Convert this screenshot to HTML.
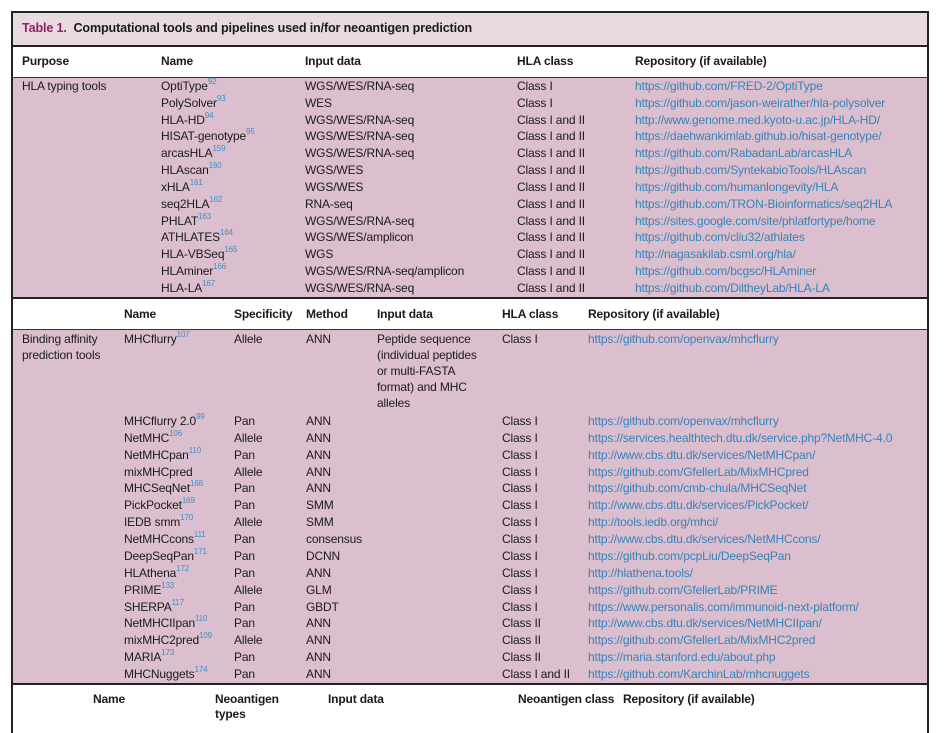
<!DOCTYPE html>
<html><head><meta charset="utf-8">
<style>
body{margin:0;width:944px;height:716px;background:#fff;overflow:hidden;position:relative;font-family:"Liberation Sans",sans-serif;font-size:12px;color:#1a1a1a}
.c{position:absolute;white-space:nowrap;line-height:16px;letter-spacing:-0.15px}
.b{font-weight:bold}
.l{color:#3583b8}
sup{color:#3a90c8;font-size:8px;vertical-align:6px;line-height:0}
.bg{position:absolute}
</style></head><body>
<div class="bg" style="left:11px;top:11px;width:914px;height:720px;border:2px solid #222;border-bottom:none;"></div>
<div class="bg" style="left:13px;top:13px;width:914px;height:32px;background:#e9dae2;border-bottom:2px solid #222"></div>
<div class="c b" style="left:22px;top:20px;font-size:12.6px"><span style="color:#8b2464">Table 1.</span>&nbsp; Computational tools and pipelines used in/for neoantigen prediction</div>
<div class="bg" style="left:13px;top:77px;width:914px;height:219px;background:#dbbfcf;border-top:1px solid #333;border-bottom:2px solid #222"></div>
<div class="bg" style="left:13px;top:329px;width:914px;height:353px;background:#dbbfcf;border-top:1px solid #333;border-bottom:2px solid #222"></div>
<div id="root"></div>
<script>
const root=document.getElementById('root');
function cell(x,y,html,cls,name,link){
  const d=document.createElement('div');
  d.className='c '+(cls||'');
  d.style.left=x+'px';d.style.top=(y-8)+'px';
  d.innerHTML=html;
  
  
  root.appendChild(d);
}
const h1=['Purpose','Name','Input data','HLA class','Repository (if available)'];
const h1x=[22,161,305,517,635];
h1.forEach((t,i)=>cell(h1x[i],61,t,'b','column-header'));
const hlaNames=['OptiType<sup>92</sup>','PolySolver<sup>93</sup>','HLA-HD<sup>94</sup>','HISAT-genotype<sup>95</sup>','arcasHLA<sup>159</sup>','HLAscan<sup>160</sup>','xHLA<sup>161</sup>','seq2HLA<sup>162</sup>','PHLAT<sup>163</sup>','ATHLATES<sup>164</sup>','HLA-VBSeq<sup>165</sup>','HLAminer<sup>166</sup>','HLA-LA<sup>167</sup>'];
const hlaInput=['WGS/WES/RNA-seq','WES','WGS/WES/RNA-seq','WGS/WES/RNA-seq','WGS/WES/RNA-seq','WGS/WES','WGS/WES','RNA-seq','WGS/WES/RNA-seq','WGS/WES/amplicon','WGS','WGS/WES/RNA-seq/amplicon','WGS/WES/RNA-seq'];
const hlaClass=['Class I','Class I','Class I and II','Class I and II','Class I and II','Class I and II','Class I and II','Class I and II','Class I and II','Class I and II','Class I and II','Class I and II','Class I and II'];
const hlaRepo=['https://github.com/FRED-2/OptiType','https://github.com/jason-weirather/hla-polysolver','http://www.genome.med.kyoto-u.ac.jp/HLA-HD/','https://daehwankimlab.github.io/hisat-genotype/','https://github.com/RabadanLab/arcasHLA','https://github.com/SyntekabioTools/HLAscan','https://github.com/humanlongevity/HLA','https://github.com/TRON-Bioinformatics/seq2HLA','https://sites.google.com/site/phlatfortype/home','https://github.com/cliu32/athlates','http://nagasakilab.csml.org/hla/','https://github.com/bcgsc/HLAminer','https://github.com/DiltheyLab/HLA-LA'];
cell(22,86,'HLA typing tools','','purpose-hla-typing');
hlaNames.forEach((n,i)=>{
  const y=86+i*16.83;
  cell(161,y,n,'','tool-name');
  cell(305,y,hlaInput[i],'','input-data');
  cell(517,y,hlaClass[i],'','hla-class');
  cell(635,y,hlaRepo[i],'l','repository-link',true);
});
const h2=['Name','Specificity','Method','Input data','HLA class','Repository (if available)'];
const h2x=[124,234,306,377,502,588];
h2.forEach((t,i)=>cell(h2x[i],314,t,'b','column-header'));
cell(22,339,'Binding affinity','','purpose-binding-affinity');
cell(22,355,'prediction tools','','purpose-binding-affinity');
cell(124,339,'MHCflurry<sup>107</sup>','','tool-name');
cell(234,339,'Allele','','specificity');
cell(306,339,'ANN','','method');
['Peptide sequence','(individual peptides','or multi-FASTA','format) and MHC','alleles'].forEach((t,i)=>cell(377,339+i*16,t,'','input-data'));
cell(502,339,'Class I','','hla-class');
cell(588,339,'https://github.com/openvax/mhcflurry','l','repository-link',true);
const bNames=['MHCflurry 2.0<sup>99</sup>','NetMHC<sup>106</sup>','NetMHCpan<sup>110</sup>','mixMHCpred','MHCSeqNet<sup>168</sup>','PickPocket<sup>169</sup>','IEDB smm<sup>170</sup>','NetMHCcons<sup>111</sup>','DeepSeqPan<sup>171</sup>','HLAthena<sup>172</sup>','PRIME<sup>133</sup>','SHERPA<sup>117</sup>','NetMHCIIpan<sup>110</sup>','mixMHC2pred<sup>109</sup>','MARIA<sup>173</sup>','MHCNuggets<sup>174</sup>'];
const bSpec=['Pan','Allele','Pan','Allele','Pan','Pan','Allele','Pan','Pan','Pan','Allele','Pan','Pan','Allele','Pan','Pan'];
const bMethod=['ANN','ANN','ANN','ANN','ANN','SMM','SMM','consensus','DCNN','ANN','GLM','GBDT','ANN','ANN','ANN','ANN'];
const bClass=['Class I','Class I','Class I','Class I','Class I','Class I','Class I','Class I','Class I','Class I','Class I','Class I','Class II','Class II','Class II','Class I and II'];
const bRepo=['https://github.com/openvax/mhcflurry','https://services.healthtech.dtu.dk/service.php?NetMHC-4.0','http://www.cbs.dtu.dk/services/NetMHCpan/','https://github.com/GfellerLab/MixMHCpred','https://github.com/cmb-chula/MHCSeqNet','http://www.cbs.dtu.dk/services/PickPocket/','http://tools.iedb.org/mhci/','http://www.cbs.dtu.dk/services/NetMHCcons/','https://github.com/pcpLiu/DeepSeqPan','http://hlathena.tools/','https://github.com/GfellerLab/PRIME','https://www.personalis.com/immunoid-next-platform/','http://www.cbs.dtu.dk/services/NetMHCIIpan/','https://github.com/GfellerLab/MixMHC2pred','https://maria.stanford.edu/about.php','https://github.com/KarchinLab/mhcnuggets'];
bNames.forEach((n,i)=>{
  const y=421+i*16.87;
  cell(124,y,n,'','tool-name');
  cell(234,y,bSpec[i],'','specificity');
  cell(306,y,bMethod[i],'','method');
  cell(502,y,bClass[i],'','hla-class');
  cell(588,y,bRepo[i],'l','repository-link',true);
});
const h3=['Name','Neoantigen','Input data','Neoantigen class','Repository (if available)'];
const h3x=[93,215,328,518,623];
h3.forEach((t,i)=>cell(h3x[i],699,t,'b','column-header'));
cell(215,714,'types','b','column-header');
</script>
</body></html>
